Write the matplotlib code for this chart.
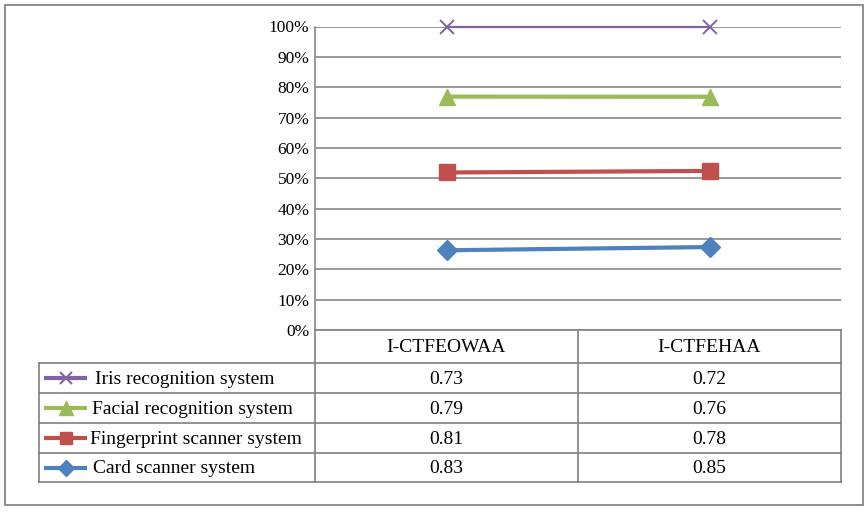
import numpy as np
import matplotlib
matplotlib.use("Agg")
import matplotlib.pyplot as plt
from matplotlib.patches import Rectangle

categories = ["I-CTFEOWAA", "I-CTFEHAA"]
series_names = ["Iris recognition system", "Facial recognition system",
                "Fingerprint scanner system", "Card scanner system"]
iris = [0.73, 0.72]
facial = [0.79, 0.76]
fingerprint = [0.81, 0.78]
card = [0.83, 0.85]
yticklabels = ["0%", "10%", "20%", "30%", "40%", "50%", "60%", "70%", "80%", "90%", "100%"]

colors = {"iris": "#8064A2", "facial": "#9BBB59", "fingerprint": "#C0504D", "card": "#4F81BD"}
grid_c = "#868686"
font = "Liberation Serif"

W, H = 868, 512
fig = plt.figure(figsize=(W / 100, H / 100), dpi=100)

# full-figure overlay in pixel coordinates for border & table
bg = fig.add_axes([0, 0, 1, 1], zorder=0)
bg.set_xlim(0, W)
bg.set_ylim(H, 0)
bg.axis("off")

bg.add_patch(Rectangle((5, 5), 858, 500, fill=False, ec=grid_c, lw=1.3))

# plot area
x0, x1 = 315, 841
ytop, ybot = 26.5, 330
ax = fig.add_axes([x0 / W, 1 - ybot / H, (x1 - x0) / W, (ybot - ytop) / H], zorder=2)
ax.patch.set_alpha(0)

data = np.array([card, fingerprint, facial, iris])  # stacking order bottom->top
total = data.sum(axis=0)
cum = np.cumsum(data, axis=0) / total
xs = np.arange(len(categories))

styles = [
    ("card", dict(marker="D", ms=10.5, lw=3.0)),
    ("fingerprint", dict(marker="s", ms=11, lw=3.0)),
    ("facial", dict(marker="^", ms=11.5, lw=3.0)),
    ("iris", dict(marker="x", ms=10, lw=1.6, mew=1.4)),
]
for (key, st), yv in zip(styles, cum):
    ax.plot(xs, yv, color=colors[key], mec=colors[key], mfc=colors[key],
            solid_capstyle="butt", clip_on=False, zorder=3, **st)

ax.set_xlim(-0.5, len(categories) - 0.5)
ax.set_ylim(0, 1)
ax.set_yticks(np.linspace(0, 1, 11))
ax.set_yticklabels(yticklabels, fontfamily=font, fontsize=12.5)
ax.tick_params(axis="y", length=0, pad=4)
ax.set_xticks([])
ax.grid(axis="y", color=grid_c, lw=1.2)
ax.set_axisbelow(True)
for s in ["top", "right", "bottom"]:
    ax.spines[s].set_visible(False)
ax.spines["left"].set_color(grid_c)
ax.spines["left"].set_linewidth(1.2)

# data table
tl = 39
col_div = 578
rows_y = [330, 363, 393, 423, 453, 482]
tc = "#808080"
lw = 1.2
bg.plot([x0, x1], [rows_y[0], rows_y[0]], color=tc, lw=lw)
for y in rows_y[1:]:
    bg.plot([tl, x1], [y, y], color=tc, lw=lw)
bg.plot([tl, tl], [rows_y[1], rows_y[-1]], color=tc, lw=lw)
for xv in [x0, col_div, x1]:
    bg.plot([xv, xv], [rows_y[0], rows_y[-1]], color=tc, lw=lw)

col_centers = [(x0 + col_div) / 2, (col_div + x1) / 2]
for c, cx in zip(categories, col_centers):
    bg.text(cx, (rows_y[0] + rows_y[1]) / 2 + 1, c, ha="center", va="center",
            fontfamily=font, fontsize=14)

table_rows = [("iris", iris, "x"), ("facial", facial, "^"),
              ("fingerprint", fingerprint, "s"), ("card", card, "D")]
text_x = [95, 92, 90, 93]
mk_sizes = {"x": 8, "^": 9.5, "s": 9, "D": 8.5}
for i, ((key, vals, mk), name) in enumerate(zip(table_rows, series_names)):
    yc = (rows_y[i + 1] + rows_y[i + 2]) / 2
    bg.plot([44, 87], [yc, yc], color=colors[key], lw=3.0, solid_capstyle="butt")
    bg.plot([65.5], [yc], marker=mk, ms=mk_sizes[mk], color=colors[key],
            mec=colors[key], mew=1.5 if mk == "x" else 1)
    bg.text(text_x[i], yc + 1, name, ha="left", va="center", fontfamily=font, fontsize=14)
    for v, cx in zip(vals, col_centers):
        bg.text(cx, yc + 1, f"{v:.2f}", ha="center", va="center", fontfamily=font, fontsize=14)

fig.savefig("out.png", dpi=100)
